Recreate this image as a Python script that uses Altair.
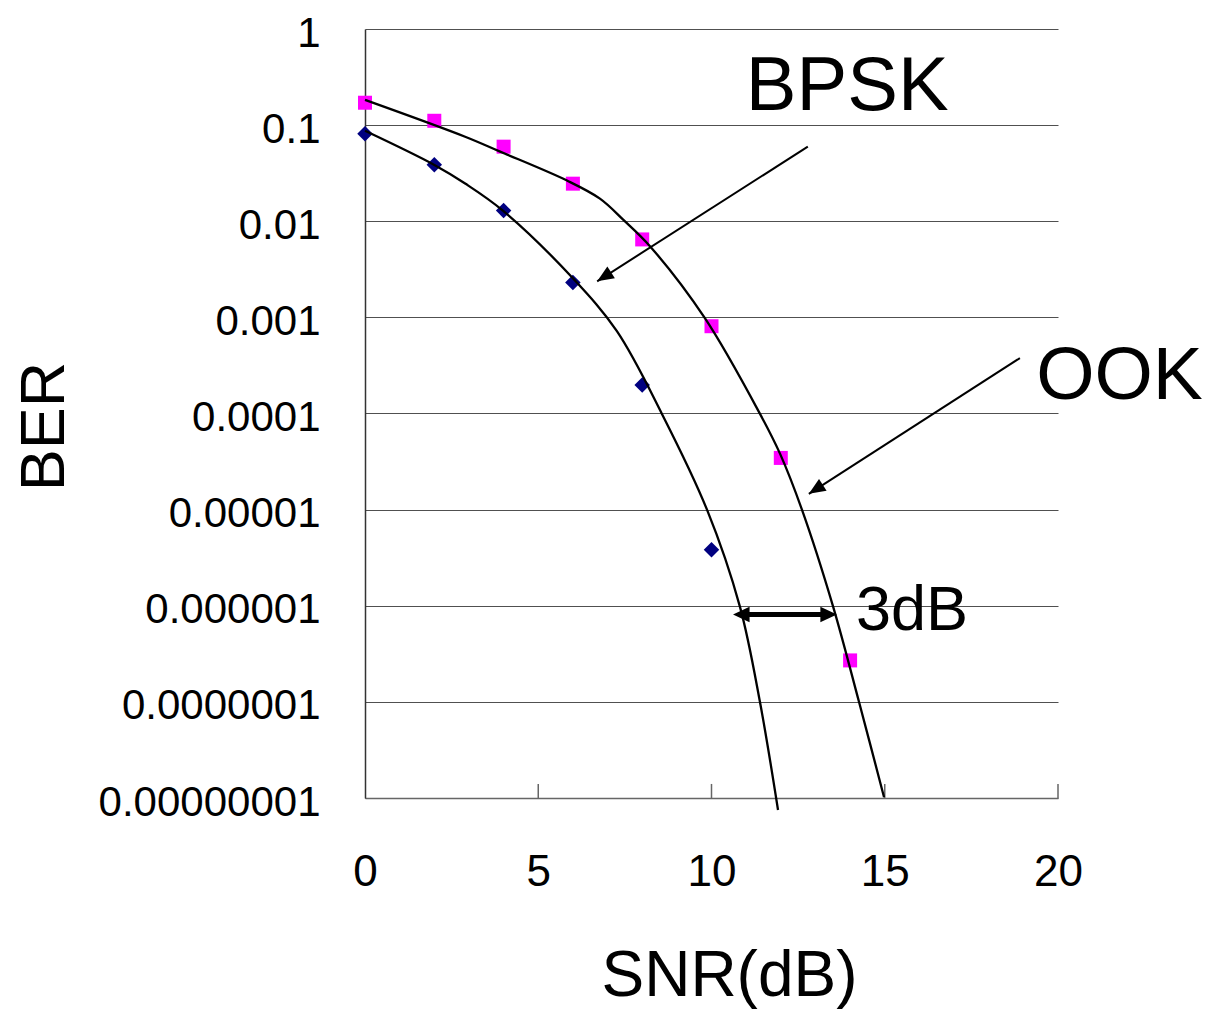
import altair as alt
import pandas as pd

# ---- measured markers ----
ook_snr = [0, 2, 4, 6, 8, 10, 12, 14]
ook_ber = [0.171, 0.111, 0.0597, 0.0246, 0.00647, 0.000809, 3.45e-5, 2.7e-7]
bpsk_snr = [0, 2, 4, 6, 8, 10]
bpsk_ber = [0.0814, 0.0388, 0.0129, 0.00231, 0.000198, 3.83e-6]

# ---- curves ----
ook_curve_snr = [0, 2.89, 3.90, 5.83, 6.78, 7.45, 8.23, 9.81, 11.40, 11.98, 12.61, 13.51, 14.26, 14.98]
ook_curve_ber = [0.183, 0.0757, 0.0530, 0.0265, 0.0172, 0.0104, 0.00547, 0.00098,
                 9.9e-5, 3.8e-5, 1.0e-5, 9.8e-7, 9.9e-8, 1.02e-8]
bpsk_curve_snr = [0, 1.99, 2.89, 3.98, 6.00, 7.27, 8.57, 9.87, 10.82, 11.40, 11.92]
bpsk_curve_ber = [0.0875, 0.0388, 0.0247, 0.0129, 0.00255, 0.000718, 9.9e-5, 1.0e-5, 9.8e-7, 9.9e-8, 7.5e-9]

# ---- axes ----
x_ticks = [0, 5, 10, 15, 20]
y_tick_values = [1, 0.1, 0.01, 0.001, 0.0001, 1e-5, 1e-6, 1e-7, 1e-8]
y_tick_labels = ["1", "0.1", "0.01", "0.001", "0.0001", "0.00001", "0.000001", "0.0000001", "0.00000001"]

# ---- annotations ----
ann_text = ["BPSK", "OOK", "3dB"]
ann_x = [10.99, 19.37, 14.17]
ann_y = [0.1444, 1.41e-4, 5.53e-7]
ann_size = [76, 75, 63]

arrow_x_start = [12.78, 18.90]
arrow_y_start = [0.0597, 3.77e-4]
arrow_x_tip = [6.70, 12.81]
arrow_y_tip = [0.00237, 1.46e-5]
arrow_angle = [237.4, 237.2]

db_y = 8.11e-7
db_x_tips = [10.62, 13.62]
db_angles = [270, 90]
db_shaft = [10.95, 13.29]

FONT = "Liberation Sans"

xs = alt.Scale(domain=[0, 20], nice=False, zero=False)
ys = alt.Scale(type="log", domain=[1e-8, 1], nice=False)

label_expr = "[" + ",".join("'%s'" % s for s in y_tick_labels) + "][round(-log(datum.value)/LN10)]"

x_axis = alt.Axis(values=x_ticks, grid=False, ticks=False, domainColor="#666666", domainWidth=1.5,
                  labelFont=FONT, labelFontSize=44, labelColor="black", labelPadding=52,
                  labelFlush=False, labelOverlap=False, labelLimit=0,
                  title="SNR(dB)", titleFont=FONT, titleFontSize=64, titleFontWeight="normal",
                  titleColor="black", titleX=364, titleY=197, titleAlign="center",
                  titleBaseline="alphabetic", titleLimit=0)
y_axis = alt.Axis(values=y_tick_values, labelExpr=label_expr, grid=True, gridColor="#505050",
                  gridWidth=1, ticks=False, domainColor="#333333", domainWidth=1.5,
                  labelFont=FONT, labelFontSize=42, labelColor="black", labelPadding=45,
                  labelBaseline="alphabetic", labelOffset=17,
                  labelFlush=False, labelOverlap=False, labelBound=False, labelLimit=0,
                  title="BER", titleFont=FONT, titleFontSize=63, titleFontWeight="normal",
                  titleColor="black", titleAngle=270, titleX=-302, titleY=397,
                  titleAlign="center", titleBaseline="alphabetic", titleLimit=0)


def X(field):
    return alt.X(field, type="quantitative", scale=xs, axis=x_axis)


def Y(field):
    return alt.Y(field, type="quantitative", scale=ys, axis=y_axis)


curve_df = pd.DataFrame({
    "snr": ook_curve_snr + bpsk_curve_snr,
    "ber": ook_curve_ber + bpsk_curve_ber,
    "series": ["OOK"] * len(ook_curve_snr) + ["BPSK"] * len(bpsk_curve_snr),
})
ook_df = pd.DataFrame({"snr": ook_snr, "ber": ook_ber})
bpsk_df = pd.DataFrame({"snr": bpsk_snr, "ber": bpsk_ber})
arrow_df = pd.DataFrame({"snr": arrow_x_start, "ber": arrow_y_start, "x2": arrow_x_tip, "y2": arrow_y_tip,
                         "angle": arrow_angle})
head_df = pd.DataFrame({"snr": arrow_x_tip, "ber": arrow_y_tip, "angle": arrow_angle})
db_head_df = pd.DataFrame({"snr": db_x_tips, "ber": [db_y, db_y], "angle": db_angles})
db_shaft_df = pd.DataFrame({"snr": [db_shaft[0]], "x2": [db_shaft[1]], "ber": [db_y]})
text_df = pd.DataFrame({"t": ann_text, "snr": ann_x, "ber": ann_y, "s": ann_size})
tick_df = pd.DataFrame({"snr": x_ticks[1:], "ber": [1e-8] * 4, "y2": [1.4e-8] * 4})

tick_layer = alt.Chart(tick_df).mark_rule(color="#666666", strokeWidth=1.5).encode(
    x=X("snr"), y=Y("ber"), y2="y2:Q")

ook_pts = alt.Chart(ook_df).mark_square(size=196, color="#FF00FF", opacity=1).encode(
    x=X("snr"), y=Y("ber"))
bpsk_pts = alt.Chart(bpsk_df).mark_point(shape="diamond", filled=True, size=240, color="#000080",
                                         opacity=1).encode(x=X("snr"), y=Y("ber"))

curves = alt.Chart(curve_df).mark_line(color="black", strokeWidth=2.3, interpolate="catmull-rom").encode(
    x=X("snr"), y=Y("ber"), detail="series:N")

arrow_lines = alt.Chart(arrow_df).mark_rule(color="black", strokeWidth=2).encode(
    x=X("snr"), y=Y("ber"), x2="x2:Q", y2="y2:Q")
arrow_heads = alt.Chart(head_df).mark_point(shape="M0,0L-0.42,1L0.42,1Z", filled=True, size=1100,
                                            color="black", opacity=1).encode(
    x=X("snr"), y=Y("ber"), angle=alt.Angle("angle:Q", scale=None))

db_line = alt.Chart(db_shaft_df).mark_rule(color="black", strokeWidth=5).encode(
    x=X("snr"), x2="x2:Q", y=Y("ber"))
db_heads = alt.Chart(db_head_df).mark_point(shape="M0,0L-0.47,1L0.47,1Z", filled=True, size=1100,
                                            color="black", opacity=1).encode(
    x=X("snr"), y=Y("ber"), angle=alt.Angle("angle:Q", scale=None))

texts = alt.Chart(text_df).mark_text(align="left", baseline="alphabetic", font=FONT, color="black").encode(
    x=X("snr"), y=Y("ber"), text="t:N", size=alt.Size("s:Q", scale=None))

chart = alt.layer(tick_layer, ook_pts, bpsk_pts, curves, arrow_lines, arrow_heads, db_line, db_heads,
                  texts).properties(
    width=693, height=769,
    padding={"left": 357, "top": 21, "right": 146, "bottom": 212},
    autosize=alt.AutoSizeParams(type="none"),
).configure(font=FONT).configure_view(stroke=None)

chart.save("out.html", embed_options={"renderer": "svg", "actions": False})
